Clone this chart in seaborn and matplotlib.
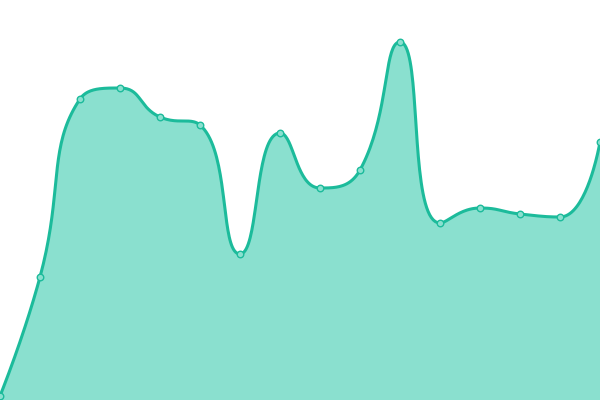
import numpy as np
import pandas as pd
import matplotlib
matplotlib.use("Agg")
import matplotlib.pyplot as plt
import seaborn as sns

# Data
categories = list(range(16))
values = [4, 123, 301, 312, 283, 275, 146, 267, 212, 230, 358, 177, 192, 186, 183, 258]

LINE = "#1cbb9b"
FILL = "#8ae0cf"

sns.set_theme(style="white")


def echarts_smooth(xs, ys, smooth=0.5, n=40):
    pts = list(zip(xs, ys))
    out_x, out_y = [pts[0][0]], [pts[0][1]]
    cpx0, cpy0 = pts[0]
    prevX, prevY = pts[0]
    N = len(pts)
    for i in range(1, N):
        x, y = pts[i]
        if i + 1 >= N:
            cpx1, cpy1 = x, y
            ncx, ncy = x, y
        else:
            nextX, nextY = pts[i + 1]
            vx = nextX - prevX
            vy = nextY - prevY
            dx0, dy0 = x - prevX, y - prevY
            dx1, dy1 = nextX - x, nextY - y
            lp = np.hypot(dx0, dy0)
            ln = np.hypot(dx1, dy1)
            r = ln / (ln + lp)
            ncx = x + vx * smooth * r
            ncy = y + vy * smooth * r
            ncx = max(min(ncx, max(nextX, x)), min(nextX, x))
            ncy = max(min(ncy, max(nextY, y)), min(nextY, y))
            vx, vy = ncx - x, ncy - y
            cpx1 = x - vx * lp / ln
            cpy1 = y - vy * lp / ln
            cpx1 = max(min(cpx1, max(prevX, x)), min(prevX, x))
            cpy1 = max(min(cpy1, max(prevY, y)), min(prevY, y))
            vx, vy = x - cpx1, y - cpy1
            ncx = x + vx * ln / lp
            ncy = y + vy * ln / lp
        t = np.linspace(0, 1, n)[1:]
        bx = ((1 - t) ** 3 * prevX + 3 * (1 - t) ** 2 * t * cpx0
              + 3 * (1 - t) * t ** 2 * cpx1 + t ** 3 * x)
        by = ((1 - t) ** 3 * prevY + 3 * (1 - t) ** 2 * t * cpy0
              + 3 * (1 - t) * t ** 2 * cpy1 + t ** 3 * y)
        out_x.extend(bx)
        out_y.extend(by)
        cpx0, cpy0 = ncx, ncy
        prevX, prevY = x, y
    return np.array(out_x), np.array(out_y)


# pixel-space smoothing (x step 40 px, y 1 px per unit)
px = np.array(categories, dtype=float) * 40.0
py = 400.0 - np.array(values, dtype=float)
sx, sy = echarts_smooth(px, py)
curve = pd.DataFrame({"x": sx / 40.0, "y": 400.0 - sy})
pts = pd.DataFrame({"x": categories, "y": values})

fig = plt.figure(figsize=(6, 4), dpi=100)
ax = fig.add_axes([0, 0, 1, 1])
ax.fill_between(curve["x"], 0, curve["y"], color=FILL, linewidth=0, zorder=1)
sns.lineplot(data=curve, x="x", y="y", sort=False, estimator=None,
             color=LINE, linewidth=2.2, ax=ax, zorder=2)
sns.scatterplot(data=pts, x="x", y="y", s=22, color=FILL, edgecolor=LINE,
                linewidth=1.0, ax=ax, zorder=3, clip_on=True)
ax.set_xlim(0, 15)
ax.set_ylim(0, 400)
ax.set_axis_off()
fig.savefig("out.png", dpi=100)
